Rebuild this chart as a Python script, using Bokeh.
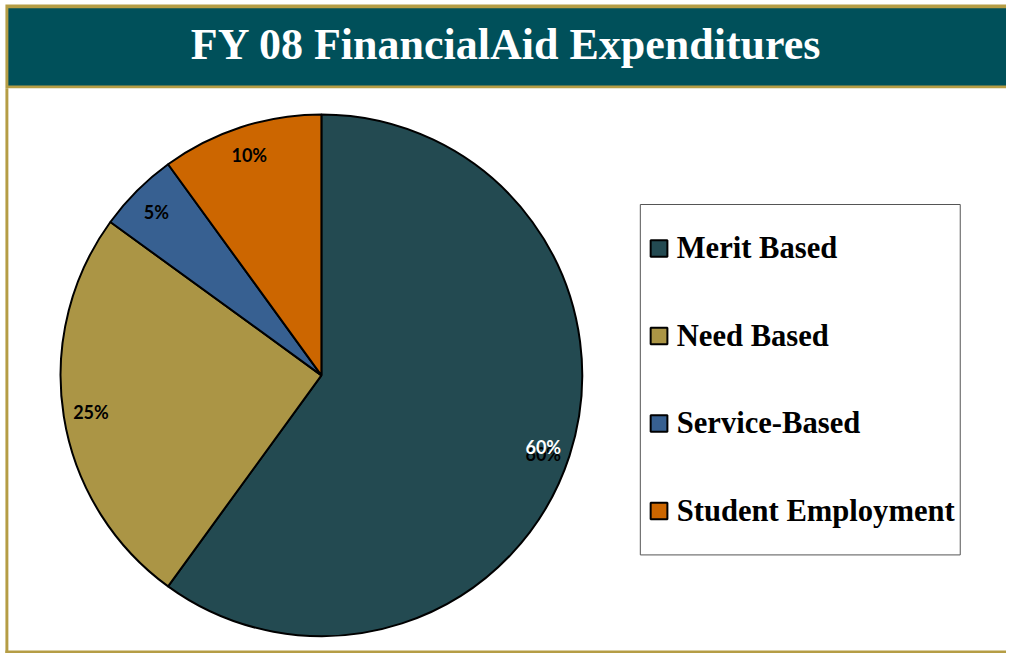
import numpy as np
from bokeh.plotting import figure
from bokeh.models import Range1d, ColumnDataSource
from bokeh.core.properties import value
from bokeh.embed import file_html
from bokeh.resources import INLINE

# ---- data ----
categories = ["Merit Based", "Need Based", "Service-Based", "Student Employment"]
shares = [60, 25, 5, 10]
colors = ["#234a51", "#ab9545", "#376091", "#cc6600"]
label_colors = ["white", "black", "black", "black"]
title_text = "FY 08 FinancialAid Expenditures"

# ---- layout: data space = original 1022x669 canvas, y measured from top ----
W, H = 1006, 653
CW, CH = 1022, 669
def sy(v):
    return CH - v

TEAL = "#00505a"
GOLD = "#b59d45"

p = figure(width=W, height=H, x_range=Range1d(0, CW), y_range=Range1d(0, CH),
           output_backend="svg", toolbar_location=None, min_border=0)
p.axis.visible = False
p.grid.visible = False
p.outline_line_color = None
p.background_fill_color = "white"
p.border_fill_color = "white"

# frame / title bar
p.quad(left=5, right=CW, top=sy(4), bottom=sy(90), fill_color=GOLD, line_color=None)
p.quad(left=8, right=CW, top=sy(8), bottom=sy(87), fill_color=TEAL, line_color=None)
p.quad(left=5, right=8, top=sy(90), bottom=sy(669), fill_color=GOLD, line_color=None)
p.quad(left=5, right=CW, top=sy(666), bottom=sy(669), fill_color=GOLD, line_color=None)

p.text(x=[514], y=[sy(45)], text=[title_text], text_align="center", text_baseline="middle",
       text_color="white", text_font=value("Liberation Serif"), text_font_style="bold",
       text_font_size="44px")

# ---- pie ----
cx, cy, R = 326, sy(384), 265
fr = np.array(shares, dtype=float) / sum(shares)
cum = np.concatenate([[0.0], np.cumsum(fr)])
start = np.pi / 2 - 2 * np.pi * cum[:-1]
end = np.pi / 2 - 2 * np.pi * cum[1:]
mid = (start + end) / 2
LR = 237
src = ColumnDataSource(dict(
    cat=categories, start=start, end=end, color=colors,
    pct=[f"{s}%" for s in shares], tcol=label_colors,
    lx=cx + LR * np.cos(mid), ly=cy + LR * np.sin(mid),
))
p.wedge(x=cx, y=cy, radius=R, start_angle="start", end_angle="end", direction="clock",
        fill_color="color", line_color="black", line_width=2, source=src)

# shadow of the first label (as in the original)
shadow = ColumnDataSource(dict(lx=src.data["lx"][:1], ly=src.data["ly"][:1], pct=src.data["pct"][:1]))
p.text(x="lx", y="ly", text="pct", source=shadow, text_align="center", text_baseline="middle",
       y_offset=7, text_color="black", text_font=value("Lato"), text_font_style="bold",
       text_font_size="18px")
p.text(x="lx", y="ly", text="pct", source=src, text_align="center", text_baseline="middle",
       text_color="tcol", text_font=value("Lato"), text_font_style="bold", text_font_size="18px")

# ---- legend ----
LX0, LX1, LY0, LY1 = 650, 975, 209, 568
p.quad(left=LX0, right=LX1, top=sy(LY0), bottom=sy(LY1), fill_color="white",
       line_color="#555555", line_width=1)
n = len(categories)
step = (LY1 - LY0 - 90) / (n - 1)
ys = [sy(LY0 + 45 + i * step) for i in range(n)]
leg = ColumnDataSource(dict(y=ys, cat=categories, color=colors))
p.rect(x=669, y="y", width=17, height=17,
       fill_color="color", line_color="black", line_width=2, source=leg)
p.text(x=687, y="y", text="cat", source=leg, text_align="left", text_baseline="middle",
       text_color="black", text_font=value("Liberation Serif"), text_font_style="bold",
       text_font_size="30.6px")

open("out.html", "w").write(file_html(p, INLINE))
